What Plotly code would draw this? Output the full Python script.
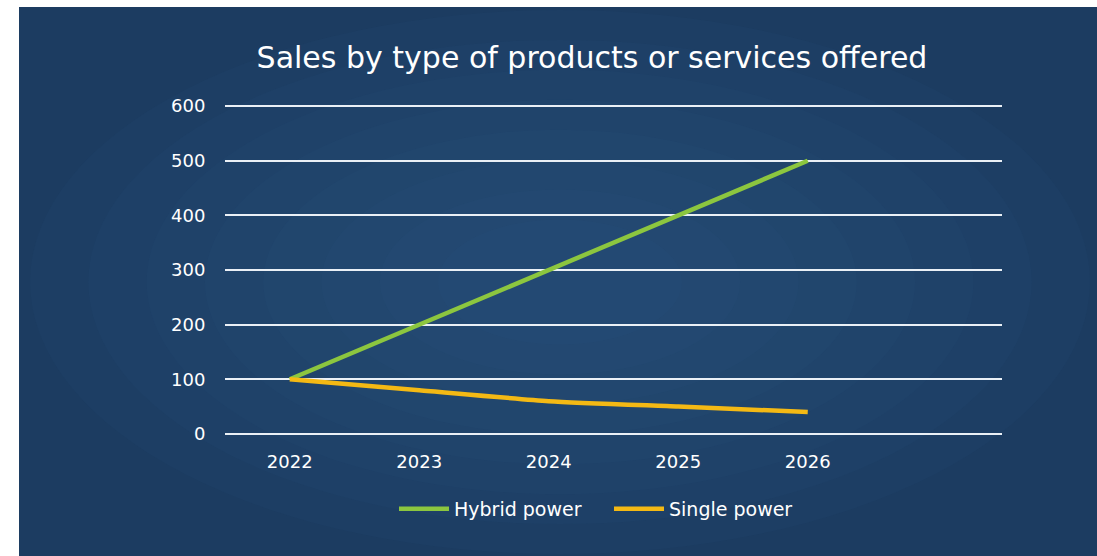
import plotly.graph_objects as go

years = ["2022", "2023", "2024", "2025", "2026"]
hybrid = [100, 200, 300, 400, 500]
single = [100, 80, 60, 50, 40]
y_ticks = [0, 100, 200, 300, 400, 500, 600]

W, H = 1097, 556
L, R, T, B = 225, 95, 105, 121
PW, PH = W - L - R, H - T - B
FONT = "DejaVu Sans"

x_idx = list(range(len(years)))


def px_x(p):
    return (p - L) / PW


def px_y(p):
    return (H - B - p) / PH


fig = go.Figure()
fig.add_trace(go.Scatter(x=x_idx, y=hybrid, mode="lines", name="Hybrid power",
                         line=dict(color="#8cc63f", width=4.5)))
fig.add_trace(go.Scatter(x=x_idx, y=single, mode="lines", name="Single power",
                         line=dict(color="#f4b914", width=4.5, shape="spline", smoothing=0.6)))

# background panel
fig.add_shape(type="rect", xref="paper", yref="paper",
              x0=px_x(19), x1=px_x(W), y0=px_y(H), y1=px_y(7),
              fillcolor="#1c3c61", line=dict(width=0), layer="below")
# soft lighter centre (subtle vignette)
cx, cy = 560, 282
for k in range(8):
    f = 1 - k * 0.11
    rx, ry = 530 * f, 272 * f
    fig.add_shape(type="circle", xref="paper", yref="paper",
                  x0=px_x(cx - rx), x1=px_x(cx + rx), y0=px_y(cy + ry), y1=px_y(cy - ry),
                  fillcolor="#2d5f92", opacity=0.06, line=dict(width=0), layer="below")

fig.update_layout(
    width=W, height=H,
    margin=dict(l=L, r=R, t=T, b=B, pad=0, autoexpand=False),
    paper_bgcolor="white", plot_bgcolor="rgba(0,0,0,0)",
    font=dict(family=FONT, color="white", size=18),
    title=dict(text="Sales by type of products or services offered",
               x=592 / W, xanchor="center", y=1 - 57 / H, yanchor="middle",
               font=dict(size=30, color="white", family=FONT)),
    xaxis=dict(range=[-0.5, 5.5], tickvals=x_idx, ticktext=years, showgrid=False,
               zeroline=False, showline=False, ticks="outside", ticklen=10,
               tickcolor="rgba(0,0,0,0)", tickfont=dict(size=18, color="white"),
               fixedrange=True),
    yaxis=dict(range=[-2, 602], tickvals=y_ticks, showgrid=True, gridcolor="#eaf0f6",
               gridwidth=2, zeroline=False, showline=False, ticks="outside",
               ticklen=15, tickcolor="rgba(0,0,0,0)",
               tickfont=dict(size=18, color="white")),
    legend=dict(orientation="h", x=px_x(609), xanchor="center",
                y=px_y(509), yanchor="middle",
                font=dict(size=19, color="white"), bgcolor="rgba(0,0,0,0)",
                itemwidth=50, entrywidth=150, tracegroupgap=0),
    showlegend=True,
)

fig.write_html("out.html")
